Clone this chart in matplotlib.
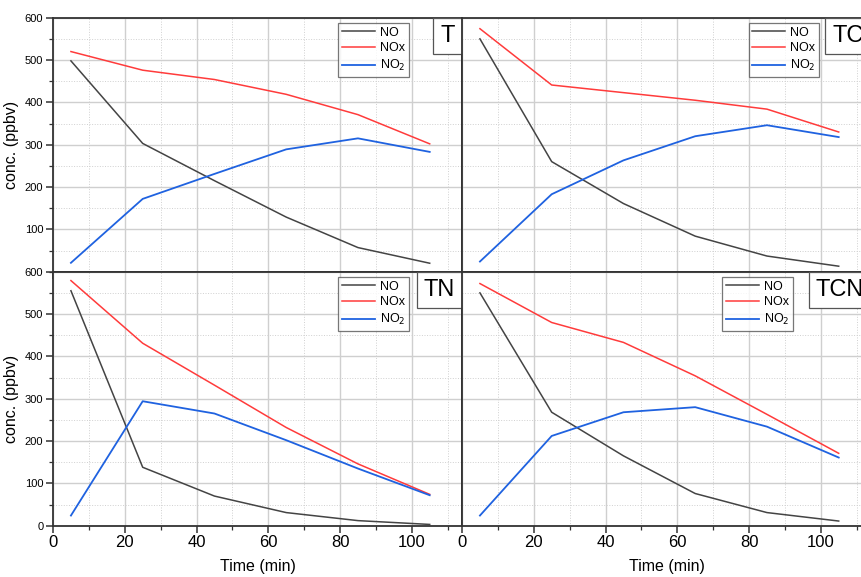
import numpy as np
import matplotlib
matplotlib.use("Agg")
import matplotlib.pyplot as plt
from matplotlib.ticker import MultipleLocator

plt.rcParams['font.family'] = ['Liberation Sans', 'DejaVu Sans']

# Zeitpunkte (min)
time = [5, 25, 45, 65, 85, 105]

# Messwerte (ppbv) je Probe
no_T = [498, 303, 215, 129, 57, 20]
nox_T = [520, 476, 454, 419, 371, 302]
no2_T = [21, 172, 231, 289, 315, 283]

no_TC = [550, 260, 161, 84, 37, 13]
nox_TC = [574, 441, 423, 405, 384, 330]
no2_TC = [24, 183, 263, 320, 346, 318]

no_TN = [555, 138, 70, 31, 12, 3]
nox_TN = [579, 431, 332, 232, 146, 74]
no2_TN = [24, 294, 265, 202, 135, 72]

no_TCN = [550, 268, 165, 76, 31, 11]
nox_TCN = [572, 480, 433, 354, 263, 171]
no2_TCN = [24, 212, 268, 280, 234, 161]

panels = [
    ("T", no_T, nox_T, no2_T),
    ("TC", no_TC, nox_TC, no2_TC),
    ("TN", no_TN, nox_TN, no2_TN),
    ("TCN", no_TCN, nox_TCN, no2_TCN),
]

c_no = '#444444'
c_nox = '#ff3b3b'
c_no2 = '#1f62e0'
spine_c = '#333333'

fig = plt.figure(figsize=(8.62, 5.77), dpi=100)

left = 53 / 862
w = 409 / 862
h = 254 / 577
b_bot = 1 - 525.7 / 577
b_top = b_bot + h

positions = [(left, b_top), (left + w, b_top), (left, b_bot), (left + w, b_bot)]
# Legendenposition (rechte obere Ecke, Achsenbruchteil)
leg_anchor = [(0.870, 0.980), (0.873, 0.980), (0.870, 0.980), (0.809, 0.980)]

for i, (name, no, nox, no2) in enumerate(panels):
    x0, y0 = positions[i]
    ax = fig.add_axes([x0, y0, w, h])
    ax.plot(time, no, color=c_no, lw=1.1, label='NO')
    ax.plot(time, nox, color=c_nox, lw=1.1, label='NOx')
    ax.plot(time, no2, color=c_no2, lw=1.3, label='NO$_2$')

    ax.set_xlim(0, 114)
    ax.set_ylim(0, 600)
    ax.xaxis.set_major_locator(MultipleLocator(20))
    ax.xaxis.set_minor_locator(MultipleLocator(10))
    ax.yaxis.set_major_locator(MultipleLocator(100))
    ax.yaxis.set_minor_locator(MultipleLocator(50))

    ax.grid(which='major', color='#cfcfcf', lw=1.0, ls='-')
    ax.grid(which='minor', color='#d0d0d0', lw=0.7, ls=':')
    ax.set_axisbelow(True)

    for s in ax.spines.values():
        s.set_color(spine_c)
        s.set_linewidth(1.3)

    ax.tick_params(which='major', direction='out', length=5, width=1.1, color=spine_c)
    ax.tick_params(which='minor', direction='out', length=3, width=0.9, color=spine_c)
    ax.tick_params(axis='x', labelsize=12, pad=2)
    ax.tick_params(axis='y', labelsize=8, pad=2)

    if i % 2 == 1:
        ax.tick_params(axis='y', labelleft=False, left=False, which='both')
    else:
        ax.set_ylabel('conc. (ppbv)', fontsize=11.5, labelpad=4)
        if i == 0:
            ax.set_yticks([100, 200, 300, 400, 500, 600])
    if i < 2:
        ax.tick_params(axis='x', labelbottom=False)
    else:
        ax.set_xlabel('Time (min)', fontsize=11.5, labelpad=6)

    leg = ax.legend(loc='upper right', bbox_to_anchor=leg_anchor[i],
                    fontsize=9, frameon=True, fancybox=False,
                    handlelength=2.6, borderpad=0.3, labelspacing=0.3,
                    handletextpad=0.4, borderaxespad=0)
    leg.get_frame().set_edgecolor('#555555')
    leg.get_frame().set_linewidth(0.9)

    ax.annotate(name, xy=(1, 1), xycoords='axes fraction',
                xytext=(-5.1, -5.1), textcoords='offset points',
                ha='right', va='top', fontsize=17,
                bbox=dict(boxstyle='square,pad=0.3', fc='white',
                          ec='#555555', lw=0.9))

fig.savefig('out.png', dpi=100)
